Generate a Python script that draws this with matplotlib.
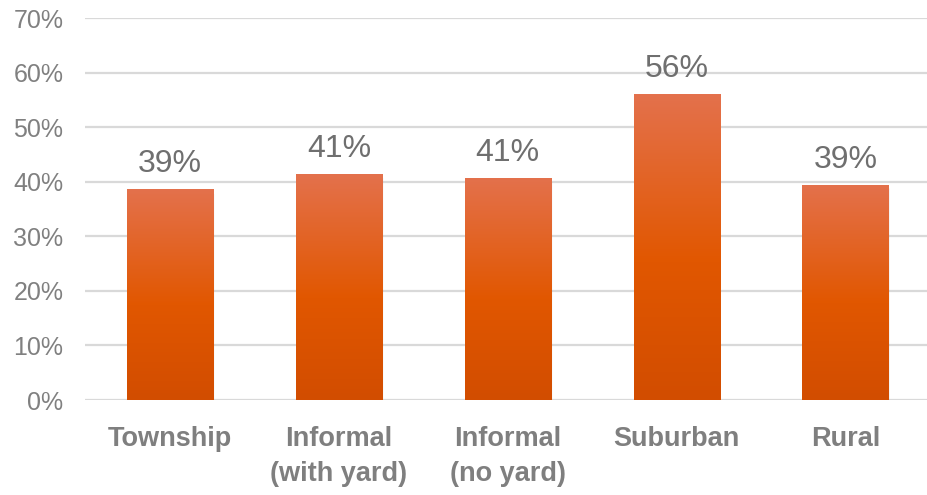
import numpy as np
import matplotlib
matplotlib.use("Agg")
import matplotlib.pyplot as plt
from matplotlib.colors import LinearSegmentedColormap
from matplotlib.patches import Rectangle
from matplotlib.ticker import PercentFormatter

categories = ["Township", "Informal\n(with yard)", "Informal\n(no yard)", "Suburban", "Rural"]
values = [0.386, 0.414, 0.407, 0.560, 0.394]
y_ticks = [0.0, 0.1, 0.2, 0.3, 0.4, 0.5, 0.6, 0.7]

plt.rcParams["font.family"] = ["Liberation Sans", "DejaVu Sans"]

fig = plt.figure(figsize=(9.28, 4.95), dpi=100)
ax = fig.add_axes([85.5 / 928, 95 / 495, 844.5 / 928, 382 / 495])

ax.set_xlim(-0.5, len(categories) - 0.5)
ax.set_ylim(0, 0.7)
ax.set_yticks(y_ticks)
ax.yaxis.set_major_formatter(PercentFormatter(1.0, decimals=0))
ax.grid(axis="y", color="#D9D9D9", linewidth=1.6, zorder=0)
ax.set_axisbelow(True)
for s in ax.spines.values():
    s.set_visible(False)
ax.tick_params(axis="both", length=0)
ax.tick_params(axis="y", labelsize=18, labelcolor="#808080", pad=16)

ax.set_xticks(range(len(categories)))
ax.set_xticklabels(categories, fontsize=19.5, fontweight="bold", color="#7F7F7F",
                   family=["Liberation Sans Narrow", "Liberation Sans", "DejaVu Sans"],
                   linespacing=1.45)
ax.tick_params(axis="x", pad=19)

# orange gradient: darker at the base, lighter towards the top
grad = LinearSegmentedColormap.from_list(
    "bar_grad",
    [(0.0, "#D24D00"), (0.45, "#E15700"), (1.0, "#E4714C")],
)
ramp = np.linspace(0, 1, 256).reshape(-1, 1)

width = 0.51
bars = ax.bar(range(len(values)), values, width=width, color="none", zorder=3)
for i, (rect, v) in enumerate(zip(bars, values)):
    x0 = rect.get_x()
    # soft drop shadow
    for k, a in enumerate([0.05, 0.05, 0.04, 0.03]):
        dx = (k + 1) * 0.0025
        sh = Rectangle((x0 + dx, -0.002 * (k + 1)), width, v, facecolor="#606060",
                       edgecolor="none", alpha=a, zorder=2)
        ax.add_patch(sh)
    im = ax.imshow(ramp, cmap=grad, origin="lower", aspect="auto",
                   extent=(x0, x0 + width, 0, v), zorder=3, interpolation="bilinear")
    im.set_clip_path(rect)
    ax.annotate(f"{v * 100:.0f}%", (i, v), xytext=(0, 12.2), textcoords="offset points",
                ha="center", va="baseline", fontsize=23, color="#6F6F6F", zorder=5)

ax.set_xlim(-0.5, len(categories) - 0.5)
ax.set_ylim(0, 0.7)

fig.savefig("out.png", dpi=100)
